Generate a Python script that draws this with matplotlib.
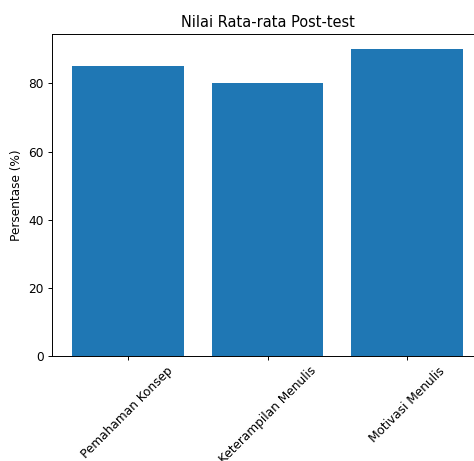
import matplotlib as mpl

mpl.use('Agg')
import matplotlib.pyplot as plt

categories = ['Pemahaman Konsep', 'Keterampilan Menulis', 'Motivasi Menulis']
values = [85, 80, 90]

DPI = 87
fig = plt.figure(figsize=(474 / DPI, 461 / DPI), dpi=DPI)
# axes runs past the right edge, as in the cropped reference
ax = fig.add_axes([52 / 474, 105 / 461, 431 / 474, 322 / 461])
ax.bar(categories, values, color='#1f77b4')
ax.set_title('Nilai Rata-rata Post-test')
ax.set_ylabel('Persentase (%)')
plt.setp(ax.get_xticklabels(), rotation=45)

fig.savefig('out.png', dpi=DPI)
